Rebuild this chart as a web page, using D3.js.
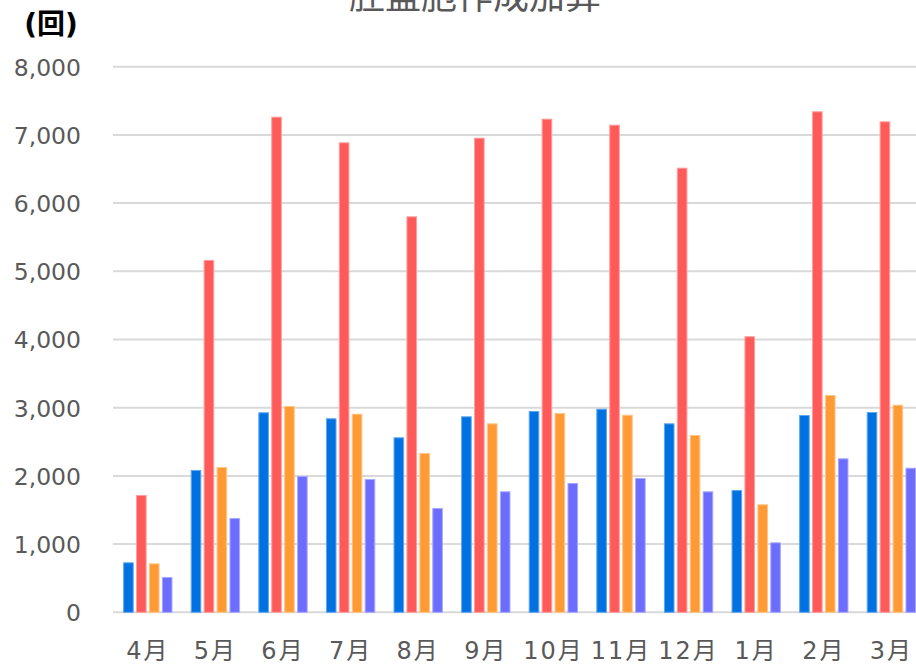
<!DOCTYPE html>
<html><head><meta charset="utf-8">
<script src="https://cdn.jsdelivr.net/npm/d3@7"></script>
<style>
html,body{margin:0;padding:0;background:#fff;}
svg{display:block;}
</style></head>
<body>
<svg id="chart" width="916" height="664"></svg>
<script>
const title = "胚盤胞作成加算";
const unitLabel = "(回)";
const categories = ["4月","5月","6月","7月","8月","9月","10月","11月","12月","1月","2月","3月"];
const seriesA = [733, 2087, 2933, 2845, 2566, 2874, 2952, 2985, 2771, 1793, 2893, 2937];
const seriesB = [1720, 5166, 7267, 6891, 5806, 6959, 7238, 7150, 6519, 4047, 7346, 7199];
const seriesC = [718, 2131, 3025, 2912, 2336, 2771, 2922, 2897, 2600, 1584, 3186, 3044];
const seriesD = [518, 1383, 1999, 1955, 1530, 1774, 1896, 1969, 1774, 1026, 2258, 2120];
const yTicks = [0, 1000, 2000, 3000, 4000, 5000, 6000, 7000, 8000];
const colors = ["#0071E1", "#FF5A5A", "#FF9A35", "#6C6CFF"];
const strokes = ["#5FA6F0", "#FF9C9C", "#FFC585", "#A8A8FF"];

const series = [seriesA, seriesB, seriesC, seriesD];
const svg = d3.select("#chart");
const font = "'DejaVu Sans','Noto Sans CJK JP',sans-serif";

const left = 114, bandW = 67.6;
const x = d3.scaleBand().domain(categories).range([left, left + bandW * categories.length]).paddingInner(0.27).paddingOuter(0.135);
const xs = d3.scaleBand().domain(d3.range(series.length)).range([0, x.bandwidth()]).paddingInner(0.18);
const y = d3.scaleLinear().domain([0, 8000]).range([612.3, 66.7]);

// gridlines
svg.append("g").selectAll("line").data(yTicks).join("line")
  .attr("x1", 113).attr("x2", 916)
  .attr("y1", d => y(d)).attr("y2", d => y(d))
  .attr("stroke", "#d9d9d9").attr("stroke-width", 2);

// y axis labels
const yAxis = d3.axisLeft(y).tickValues(yTicks).tickFormat(d3.format(",")).tickSize(0).tickPadding(0);
const gy = svg.append("g").attr("transform", "translate(81,0)").call(yAxis);
gy.select(".domain").remove();
gy.selectAll("text").attr("font-family", font).attr("font-size", 23.5).attr("fill", "#595959").attr("dy", "0.36em");

// bars
const groups = svg.append("g").selectAll("g").data(categories).join("g")
  .attr("transform", d => `translate(${x(d)},0)`);
groups.selectAll("rect").data((c, i) => series.map((s, k) => ({k, v: s[i]}))).join("rect")
  .attr("x", d => xs(d.k) + 0.5)
  .attr("width", xs.bandwidth() - 1)
  .attr("y", d => y(d.v) + 0.5)
  .attr("height", d => y(0) - y(d.v) - 0.5)
  .attr("fill", d => colors[d.k])
  .attr("stroke", d => strokes[d.k]).attr("stroke-width", 1);

// x axis labels
const xAxis = d3.axisBottom(x).tickSize(0).tickPadding(0);
const gx = svg.append("g").attr("transform", "translate(0,642)").call(xAxis);
gx.select(".domain").remove();
gx.selectAll("text").attr("font-family", font).attr("font-size", 24).attr("fill", "#595959")
  .attr("letter-spacing", 2).attr("dy", "0.72em");

// unit label
svg.append("text").attr("x", 51).attr("y", 34).attr("text-anchor", "middle")
  .attr("font-family", font).attr("font-size", 28).attr("font-weight", "bold").attr("fill", "#000")
  .text(unitLabel);

// title (cut off at top, as in the reference)
svg.append("text").attr("x", 475).attr("y", 9).attr("text-anchor", "middle")
  .attr("font-family", font).attr("font-size", 36).attr("fill", "#595959")
  .text(title);
</script>
</body></html>
